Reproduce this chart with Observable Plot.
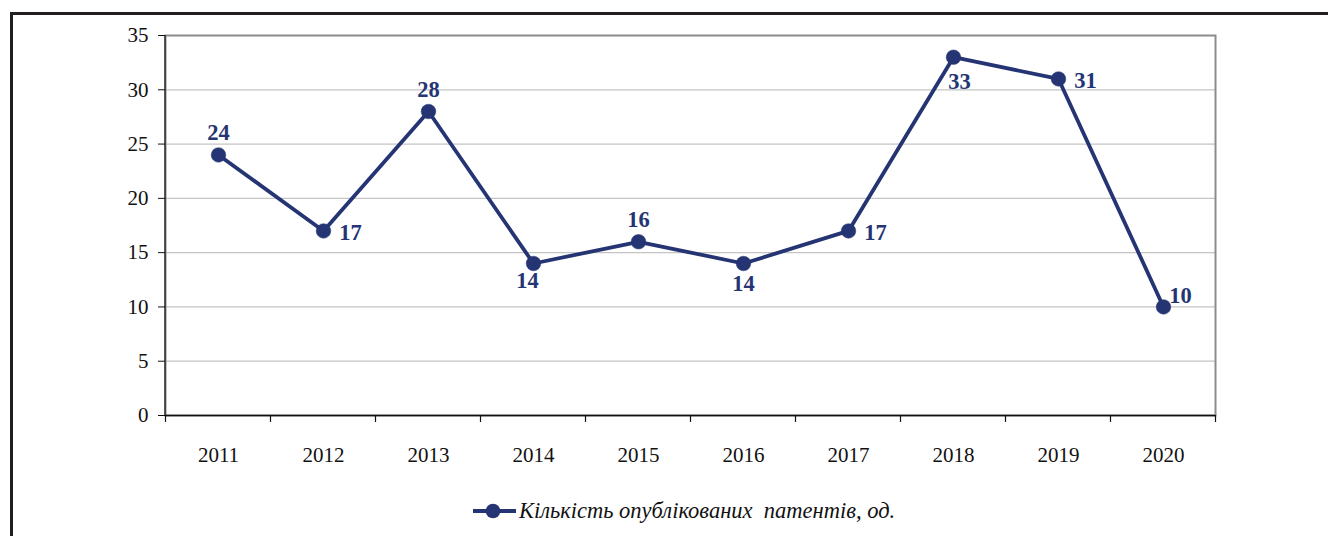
<!DOCTYPE html>
<html><head><meta charset="utf-8">
<script src="https://cdn.jsdelivr.net/npm/d3@7"></script>
<script src="https://cdn.jsdelivr.net/npm/@observablehq/plot@0.6"></script>
<style>
body{margin:0;background:#fff;width:1328px;height:536px;overflow:hidden;position:relative;font-family:"Liberation Serif","Times New Roman",serif}
#frame{position:absolute;left:10px;top:12px;width:1340px;height:600px;border-left:3px solid #231f20;border-top:3px solid #231f20;box-sizing:border-box}
#chart{position:absolute;left:0;top:0}
#legend{position:absolute;top:498px;left:472px;display:flex;align-items:center;white-space:pre;font-style:italic;font-size:22.5px;color:#111}
</style></head>
<body>
<div id="frame"></div>
<div id="chart"></div>
<div id="legend"></div>
<script>
const years = ["2011","2012","2013","2014","2015","2016","2017","2018","2019","2020"];
const patents = [24,17,28,14,16,14,17,33,31,10];
const labelPlacement = ["top","right","top","bottom-left","top","bottom","right","bottom-right","right","top-right"];
const yTicks = [0,5,10,15,20,25,30,35];
const seriesName = "Кількість опублікованих  патентів, од.";

const color = "#253473";
const data = years.map((y,i)=>({year:y, value:patents[i], place:labelPlacement[i]}));
const offsets = {"top":[0,-22],"right":[27,2],"bottom":[0,20],"bottom-left":[-6,17],"bottom-right":[6,25],"top-right":[17,-11]};

function frameLines(index, scales, values, dims) {
  const x = scales.x;
  const step = x(years[1]) - x(years[0]);
  const y0 = dims.height - dims.marginBottom;
  const edges = years.map(d => x(d) - step/2).concat([x(years[years.length-1]) + step/2]);
  const g = d3.create("svg:g");
  g.append("line").attr("x1", dims.marginLeft).attr("x2", dims.marginLeft)
    .attr("y1", dims.marginTop).attr("y2", y0).attr("stroke", "#111").attr("stroke-width", 1.2);
  g.selectAll("line.t").data(edges).join("line").attr("class","t")
    .attr("x1", d=>d).attr("x2", d=>d).attr("y1", y0).attr("y2", y0+7)
    .attr("stroke", "#111").attr("stroke-width", 1.2);
  return g.node();
}

const chart = Plot.plot({
  width: 1328, height: 480,
  marginTop: 35, marginBottom: 65, marginLeft: 165, marginRight: 113,
  style: {fontFamily: '"Liberation Serif","Times New Roman",serif', fontSize: "21px", color: "#111", background: "transparent"},
  x: {type: "point", domain: years, padding: 0.5, label: null},
  y: {domain: [0,35], label: null},
  marks: [
    Plot.ruleY(yTicks.filter(d=>d>0 && d<35), {stroke: "#c4c4c4", strokeWidth: 1.2, strokeOpacity: 1}),
    Plot.frame({stroke: "#8c8c8c", strokeWidth: 2}),
    Plot.ruleY([0], {stroke: "#111", strokeWidth: 1.4}),
    frameLines,
    Plot.axisY({ticks: yTicks, tickSize: 7, tickPadding: 10, fontSize: 21, stroke: "#111"}),
    Plot.axisX({tickSize: 0, tickPadding: 32, fontSize: 21}),
    Plot.line(data, {x: "year", y: "value", stroke: color, strokeWidth: 3.8}),
    Plot.dot(data, {x: "year", y: "value", r: 7.3, fill: color, stroke: color, strokeWidth: 0.5}),
    Plot.text(data, {x: "year", y: "value", text: d=>String(d.value),
      fill: color, fontWeight: "bold", fontSize: 22.5})
  ]
});
document.getElementById("chart").append(chart);

// apply per-label offsets (placement names -> pixel offsets)
{
  const texts = chart.querySelectorAll('g[aria-label="text"] text');
  texts.forEach((t,i)=>{
    const [dx,dy] = offsets[data[i].place];
    t.setAttribute("transform", (t.getAttribute("transform")||"") + ` translate(${dx},${dy})`);
  });
}

const lg = document.getElementById("legend");
lg.innerHTML = `<svg width="46" height="20"><line x1="1" x2="44" y1="10" y2="10" stroke="${color}" stroke-width="3.8"/><circle cx="21" cy="10" r="7.3" fill="${color}"/></svg><span style="margin-left:1px"></span>`;
lg.querySelector("span").textContent = seriesName;
</script>
</body></html>
